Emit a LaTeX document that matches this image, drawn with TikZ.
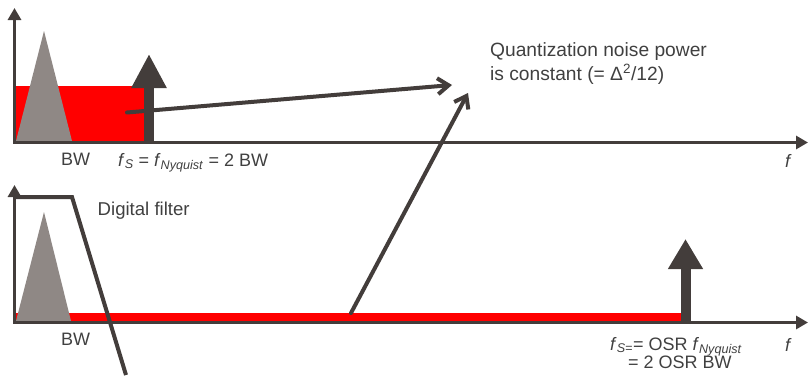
\documentclass[tikz,border=0pt]{standalone}
\usepackage{fontspec}
\setmainfont{Liberation Sans}
\usepackage{tikz}
\usetikzlibrary{arrows.meta,positioning}
\definecolor{axisdark}{RGB}{67,61,59}
\definecolor{sigrey}{RGB}{143,136,133}
\definecolor{noisered}{RGB}{255,0,0}
\definecolor{labelgrey}{RGB}{64,64,64}
\tikzset{
  specaxis/.style={draw=axisdark,line width=3.5pt,
                   {Triangle[length=12pt 0 0,width=13pt 0 0]}-{Triangle[length=12pt 0 0,width=13pt 0 0]}},
  sample/.style={draw=axisdark,line width=10pt,-{Triangle[length=34pt 0 0,width=33pt 0 0]}},
  noisearr/.style={draw=axisdark,line width=4pt,line cap=round,
                   -{Straight Barb[length=11pt 0 0,width=16pt 0 0]}},
  filterline/.style={draw=axisdark,line width=4pt},
  lbl/.style={font=\fontsize{18}{24}\selectfont,text=labelgrey,inner sep=0pt,anchor=base west},
}

\begin{document}
\begin{tikzpicture}[x=1pt,y=-1pt]
        \useasboundingbox (0,0) rectangle (808,375);
        % upper spectrum
        \fill[noisered] (16,86) rectangle (144,141);
        \fill[sigrey] (16,141) -- (44,31) -- (72,141) -- cycle;
        \draw[specaxis] (14.5,8) |- (808,142.5);
        \draw[sample] (149,142) -- (149,54);
        \node[lbl] (bw1) at (61,165.5) {BW};
        \node[lbl] (fs1) at (118,166) {\textit{f}\textsubscript{\textit{S}} = \textit{f}\textsubscript{\textit{Nyquist}} = 2 BW};
        \node[lbl] (f1) at (785,167) {\textit{f}};
        \node[lbl,font=\fontsize{19.2}{24}\selectfont,align=left,anchor=north west] (qnote) at (490,42.5)
          {Quantization noise power\\is constant (= Δ\textsuperscript{2}/12)};
        % lower spectrum
        \fill[noisered] (16,313) rectangle (687,321);
        \fill[sigrey] (16,321) -- (44,212) -- (71,321) -- cycle;
        \draw[specaxis] (14.5,185) |- (808,322.5);
        \draw[sample,-{Triangle[length=30pt 0 0,width=33pt 0 0]}] (685.5,322) -- (685.5,239);
        \draw[filterline] (14.5,197) -- (72,197) -- (126,375);
        \node[lbl,font=\fontsize{18.6}{24}\selectfont] (filt) at (97.5,215.5) {Digital filter};
        \node[lbl] (bw2) at (61,345) {BW};
        \node[lbl] (fs2) at (610,350) {\textit{f}\textsubscript{\textit{S=}}= OSR \textit{f}\textsubscript{\textit{Nyquist}}};
        \node[lbl] (fs2b) at (628,368.5) {= 2 OSR BW};
        \node[lbl] (f2) at (785,351) {\textit{f}};
        % noise power arrows
        \coordinate (n1) at (127,112.5);
        \coordinate (q1) at (452,85);
        \coordinate (n2) at (351,313);
        \coordinate (q2) at (468,93);
        \draw[noisearr] (n1) -- (q1);
        \draw[noisearr] (n2) -- (q2);
      \end{tikzpicture}
\end{document}
